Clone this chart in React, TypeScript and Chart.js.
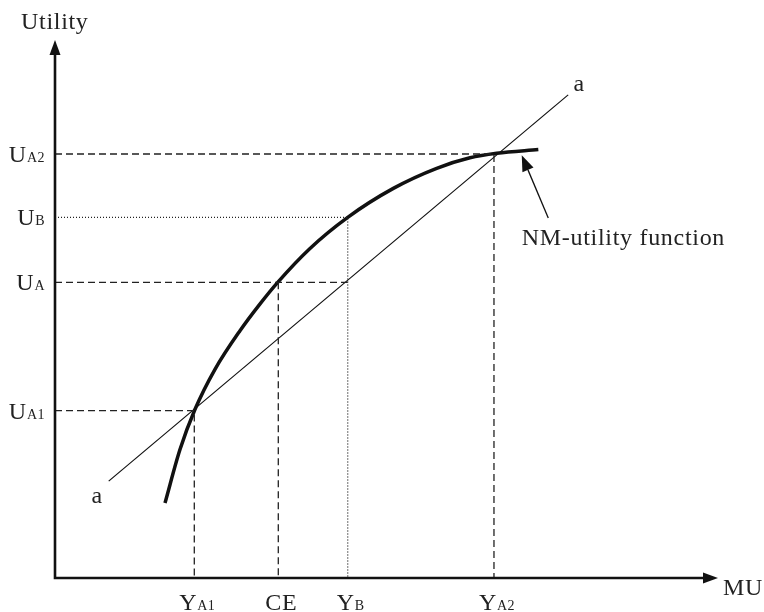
import React, { useEffect, useRef } from "react";
import { Chart, registerables } from "chart.js";

Chart.register(...registerables);

// NM-utility curve (money x, utility y), arbitrary units 0..100
const curveX = [16.59, 18.85, 21.12, 24.13, 27.90, 30.87, 33.59, 38.46, 44.15, 51.03, 57.57, 62.59, 66.62, 72.90];
const curveY = [13.94, 23.88, 31.36, 38.79, 45.97, 50.87, 54.96, 61.26, 67.04, 72.42, 76.15, 78.10, 78.94, 79.63];

// straight line "a"
const lineAX = [8.1, 77.4];
const lineAY = [18.0, 89.8];

// key x values: Y_A1, CE, Y_B, Y_A2
const xKeyValues = [21.01, 33.68, 44.15, 66.21];
const xKeyMain = ["Y", "CE", "Y", "Y"];
const xKeySub = ["A1", "", "B", "A2"];

// key y values: U_A1, U_A, U_B, U_A2
const yKeyValues = [31.10, 54.96, 67.04, 78.81];
const yKeyMain = ["U", "U", "U", "U"];
const yKeySub = ["A1", "A", "B", "A2"];

// annotation
const annoText = "NM-utility function";
const annoTail = [74.4, 66.9];
const annoTip = [70.4, 78.6];
const annoTextPos = [70.4, 61.9];
const aLabelPos = [[6.3, 15.1], [79.0, 91.6]];

const FONT = "'Liberation Serif', 'Times New Roman', serif";

function guide(points: { x: number; y: number }[], dash: number[]) {
  return {
    type: "line" as const,
    data: points,
    showLine: true,
    borderColor: "#222",
    borderWidth: 1.3,
    borderDash: dash,
    pointRadius: 0,
    fill: false,
    tension: 0,
  };
}

const DASH = [7, 4];
const DOT = [1, 2];

export default function App() {
  const ref = useRef<HTMLCanvasElement | null>(null);

  useEffect(() => {
    if (!ref.current) return;
    const [xA1, xCE, xB, xA2] = xKeyValues;
    const [uA1, uA, uB, uA2] = yKeyValues;

    const overlay = {
      id: "overlay",
      afterDatasetsDraw(chart: any) {
        const ctx = chart.ctx as CanvasRenderingContext2D;
        const { left, right, top, bottom } = chart.chartArea;
        const xs = chart.scales.x;
        const ys = chart.scales.y;
        const px = (v: number) => xs.getPixelForValue(v);
        const py = (v: number) => ys.getPixelForValue(v);
        ctx.save();
        // axes
        ctx.strokeStyle = "#111";
        ctx.fillStyle = "#111";
        ctx.lineWidth = 2.6;
        ctx.beginPath();
        ctx.moveTo(left, top + 12);
        ctx.lineTo(left, bottom);
        ctx.lineTo(right - 12, bottom);
        ctx.stroke();
        ctx.beginPath();
        ctx.moveTo(left, top);
        ctx.lineTo(left - 5.5, top + 15);
        ctx.lineTo(left + 5.5, top + 15);
        ctx.closePath();
        ctx.fill();
        ctx.beginPath();
        ctx.moveTo(right, bottom);
        ctx.lineTo(right - 15, bottom - 5.5);
        ctx.lineTo(right - 15, bottom + 5.5);
        ctx.closePath();
        ctx.fill();

        const setSpacing = (s: string) => {
          try { (ctx as any).letterSpacing = s; } catch (e) { /* ignore */ }
        };

        // axis titles
        ctx.fillStyle = "#222";
        ctx.textBaseline = "alphabetic";
        ctx.textAlign = "left";
        setSpacing("0.7px");
        ctx.font = `24px ${FONT}`;
        ctx.fillText("Utility", left - 34, top - 11);
        ctx.fillText("MU", right + 5, bottom + 17);

        const drawSub = (main: string, sub: string, x: number, y: number, align: string) => {
          setSpacing("0.7px");
          ctx.font = `24px ${FONT}`;
          const w1 = ctx.measureText(main).width;
          setSpacing("0.5px");
          ctx.font = `14px ${FONT}`;
          const w2 = sub ? ctx.measureText(sub).width : 0;
          const total = w1 + w2;
          let x0 = x;
          if (align === "center") x0 = x - total / 2;
          if (align === "right") x0 = x - total;
          ctx.textAlign = "left";
          setSpacing("0.7px");
          ctx.font = `24px ${FONT}`;
          ctx.fillText(main, x0, y);
          if (sub) {
            setSpacing("0.5px");
            ctx.font = `14px ${FONT}`;
            ctx.fillText(sub, x0 + w1, y);
          }
        };
        xKeyValues.forEach((v, i) => drawSub(xKeyMain[i], xKeySub[i], px(v) + 3, bottom + 32, "center"));
        yKeyValues.forEach((v, i) => drawSub(yKeyMain[i], yKeySub[i], left - 10, py(v) + 8, "right"));

        // "a" labels
        setSpacing("0px");
        ctx.font = `24px ${FONT}`;
        ctx.textAlign = "center";
        ctx.textBaseline = "middle";
        aLabelPos.forEach(([x, y]) => ctx.fillText("a", px(x), py(y)));

        // annotation arrow
        const tx = px(annoTail[0]), ty = py(annoTail[1]);
        const hx = px(annoTip[0]), hy = py(annoTip[1]);
        const ang = Math.atan2(hy - ty, hx - tx);
        const hl = 16, hw = 6;
        const bx = hx - hl * Math.cos(ang), by = hy - hl * Math.sin(ang);
        ctx.strokeStyle = "#111";
        ctx.lineWidth = 1.3;
        ctx.beginPath();
        ctx.moveTo(tx, ty);
        ctx.lineTo(bx, by);
        ctx.stroke();
        ctx.fillStyle = "#111";
        ctx.beginPath();
        ctx.moveTo(hx, hy);
        ctx.lineTo(bx + hw * Math.sin(ang), by - hw * Math.cos(ang));
        ctx.lineTo(bx - hw * Math.sin(ang), by + hw * Math.cos(ang));
        ctx.closePath();
        ctx.fill();

        ctx.fillStyle = "#222";
        ctx.textAlign = "left";
        ctx.textBaseline = "alphabetic";
        setSpacing("0.7px");
        ctx.font = `24px ${FONT}`;
        ctx.fillText(annoText, px(annoTextPos[0]), py(annoTextPos[1]));
        ctx.restore();
      },
    };

    const chart = new Chart(ref.current, {
      type: "scatter",
      data: {
        datasets: [
          guide([{ x: 0, y: uA2 }, { x: xA2, y: uA2 }, { x: xA2, y: 0 }], DASH),
          guide([{ x: 0, y: uB }, { x: xB, y: uB }, { x: xB, y: 0 }], DOT),
          guide([{ x: 0, y: uA }, { x: xB, y: uA }], DASH),
          guide([{ x: xCE, y: uA }, { x: xCE, y: 0 }], DASH),
          guide([{ x: 0, y: uA1 }, { x: xA1, y: uA1 }, { x: xA1, y: 0 }], DASH),
          {
            type: "line",
            data: lineAX.map((x, i) => ({ x, y: lineAY[i] })),
            showLine: true,
            borderColor: "#111",
            borderWidth: 1.2,
            pointRadius: 0,
            tension: 0,
          },
          {
            type: "line",
            data: curveX.map((x, i) => ({ x, y: curveY[i] })),
            showLine: true,
            borderColor: "#111",
            borderWidth: 3.5,
            pointRadius: 0,
            cubicInterpolationMode: "monotone",
            borderCapStyle: "butt",
          },
        ] as any,
      },
      options: {
        animation: false,
        responsive: true,
        maintainAspectRatio: false,
        layout: { padding: { left: 55, right: 46, top: 40, bottom: 34 } },
        plugins: { legend: { display: false }, tooltip: { enabled: false } },
        scales: {
          x: { type: "linear", min: 0, max: 100, display: false },
          y: { type: "linear", min: 0, max: 100, display: false },
        },
        elements: { line: { fill: false } },
      },
      plugins: [overlay],
    });
    return () => chart.destroy();
  }, []);

  return (
    <div style={{ position: "fixed", left: 0, top: 0, width: 764, height: 612, background: "#fff" }}>
      <canvas ref={ref} />
    </div>
  );
}
